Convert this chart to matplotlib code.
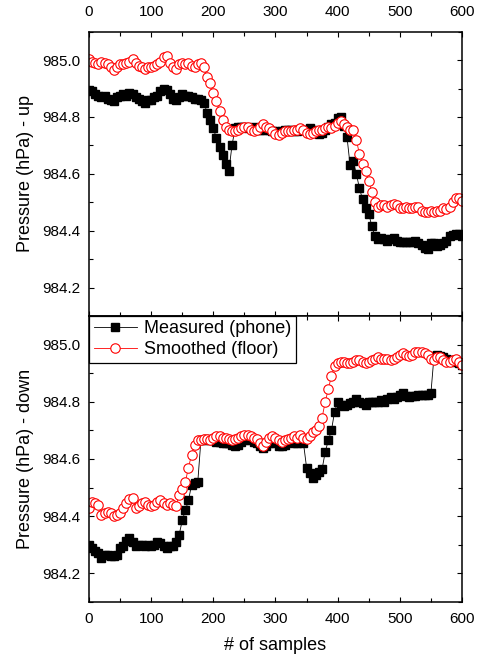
import matplotlib
matplotlib.use("Agg")
import matplotlib.pyplot as plt
from matplotlib.ticker import MultipleLocator

plt.rcParams['font.family'] = 'Liberation Sans'

# sample index (every 5th sample is plotted)
samples = list(range(0, 601, 5))

# upper sensor: raw phone reading and smoothed floor estimate
up_phone = [
    984.895, 984.89, 984.88, 984.875, 984.87, 984.875, 984.865, 984.86, 984.855, 984.87,
    984.875, 984.88, 984.875, 984.885, 984.88, 984.87, 984.865, 984.855, 984.85, 984.86,
    984.86, 984.87, 984.875, 984.89, 984.90, 984.895, 984.88, 984.865, 984.86, 984.87,
    984.88, 984.875, 984.875, 984.87, 984.865, 984.865, 984.86, 984.85, 984.815, 984.79,
    984.76, 984.725, 984.695, 984.665, 984.635, 984.61, 984.70, 984.76, 984.765, 984.765,
    984.765, 984.76, 984.76, 984.765, 984.76, 984.755, 984.755, 984.76, 984.755, 984.75,
    984.75, 984.745, 984.75, 984.755, 984.755, 984.755, 984.75, 984.75, 984.755, 984.755,
    984.755, 984.76, 984.755, 984.745, 984.74, 984.745, 984.755, 984.765, 984.775, 984.78,
    984.795, 984.80, 984.77, 984.73, 984.63, 984.645, 984.60, 984.55, 984.51, 984.48,
    984.46, 984.415, 984.38, 984.37, 984.375, 984.37, 984.365, 984.37, 984.375, 984.365,
    984.36, 984.36, 984.36, 984.36, 984.36, 984.365, 984.355, 984.35, 984.34, 984.335,
    984.355, 984.355, 984.345, 984.35, 984.355, 984.365, 984.38, 984.385, 984.39, 984.39,
    984.38,
]
up_floor = [
    985.005, 984.995, 984.99, 984.985, 984.995, 984.99, 984.985, 984.975, 984.965, 984.975,
    984.985, 984.985, 984.99, 984.995, 985.005, 984.99, 984.98, 984.975, 984.97, 984.975,
    984.975, 984.98, 984.985, 984.995, 985.01, 985.015, 984.99, 984.975, 984.97, 984.985,
    984.99, 984.985, 984.99, 984.98, 984.975, 984.985, 984.99, 984.975, 984.94, 984.92,
    984.885, 984.855, 984.82, 984.79, 984.765, 984.755, 984.75, 984.75, 984.755, 984.76,
    984.765, 984.765, 984.755, 984.75, 984.755, 984.765, 984.775, 984.765, 984.76, 984.75,
    984.74, 984.735, 984.745, 984.75, 984.75, 984.75, 984.755, 984.755, 984.76, 984.755,
    984.745, 984.74, 984.745, 984.75, 984.755, 984.755, 984.76, 984.765, 984.76, 984.77,
    984.78, 984.785, 984.775, 984.765, 984.755, 984.755, 984.72, 984.67, 984.635, 984.61,
    984.575, 984.535, 984.50, 984.485, 984.49, 984.49, 984.485, 984.49, 984.495, 984.49,
    984.48, 984.48, 984.485, 984.48, 984.48, 984.485, 984.485, 984.47, 984.465, 984.465,
    984.47, 984.465, 984.47, 984.47, 984.48, 984.475, 984.485, 984.50, 984.515, 984.515,
    984.505,
]

# lower sensor
down_phone = [
    984.30, 984.29, 984.28, 984.27, 984.255, 984.265, 984.265, 984.26, 984.26, 984.265,
    984.29, 984.295, 984.315, 984.325, 984.31, 984.295, 984.30, 984.30, 984.295, 984.30,
    984.295, 984.30, 984.31, 984.305, 984.295, 984.29, 984.295, 984.295, 984.31, 984.335,
    984.385, 984.42, 984.455, 984.51, 984.515, 984.52, 984.665, 984.665, 984.67, 984.665,
    984.665, 984.66, 984.66, 984.655, 984.655, 984.655, 984.65, 984.645, 984.65, 984.66,
    984.665, 984.67, 984.665, 984.66, 984.655, 984.645, 984.64, 984.645, 984.655, 984.66,
    984.655, 984.645, 984.645, 984.65, 984.66, 984.66, 984.655, 984.655, 984.66, 984.655,
    984.57, 984.55, 984.535, 984.545, 984.555, 984.565, 984.625, 984.665, 984.70, 984.765,
    984.80, 984.79, 984.785, 984.79, 984.795, 984.80, 984.81, 984.80, 984.795, 984.79,
    984.80, 984.80, 984.80, 984.80, 984.805, 984.80, 984.81, 984.815, 984.81, 984.815,
    984.825, 984.83, 984.82, 984.815, 984.82, 984.82, 984.825, 984.825, 984.825, 984.825,
    984.83, 984.96, 984.965, 984.96, 984.955, 984.95, 984.945, 984.945, 984.94, 984.935,
    984.93,
]
down_floor = [
    984.43, 984.45, 984.445, 984.44, 984.405, 984.41, 984.415, 984.41, 984.40, 984.405,
    984.41, 984.43, 984.445, 984.46, 984.465, 984.43, 984.435, 984.445, 984.45, 984.44,
    984.435, 984.44, 984.45, 984.455, 984.445, 984.44, 984.445, 984.44, 984.435, 984.475,
    984.495, 984.52, 984.57, 984.615, 984.65, 984.665, 984.665, 984.67, 984.67, 984.665,
    984.675, 984.68, 984.68, 984.675, 984.675, 984.67, 984.665, 984.67, 984.675, 984.68,
    984.685, 984.685, 984.68, 984.675, 984.67, 984.655, 984.645, 984.66, 984.675, 984.68,
    984.675, 984.665, 984.66, 984.665, 984.67, 984.675, 984.68, 984.675, 984.685, 984.675,
    984.67, 984.68, 984.695, 984.70, 984.715, 984.745, 984.80, 984.845, 984.89, 984.925,
    984.935, 984.94, 984.94, 984.935, 984.935, 984.94, 984.945, 984.945, 984.94, 984.935,
    984.94, 984.945, 984.95, 984.955, 984.95, 984.95, 984.95, 984.945, 984.95, 984.955,
    984.965, 984.97, 984.965, 984.96, 984.965, 984.975, 984.975, 984.975, 984.97, 984.965,
    984.95, 984.945, 984.955, 984.955, 984.945, 984.94, 984.94, 984.945, 984.95, 984.94,
    984.93,
]

fig = plt.figure(figsize=(4.79, 6.58), dpi=100)
ax1 = fig.add_axes([0.1858, 0.5198, 0.7787, 0.4320])
ax2 = fig.add_axes([0.1858, 0.0851, 0.7787, 0.4347])

sq = dict(color='black', lw=0.6, marker='s', ms=5.6, mfc='black', mec='black')
circ = dict(color='red', lw=0.6, marker='o', ms=6.8, mfc='white', mec='red', mew=0.8)

for ax, phone, floor in [(ax1, up_phone, up_floor), (ax2, down_phone, down_floor)]:
    ax.plot(samples, phone, label='Measured (phone)', **sq)
    ax.plot(samples, floor, label='Smoothed (floor)', **circ)
    ax.set_xlim(0, 600)
    ax.set_ylim(984.1, 985.1)
    ax.xaxis.set_major_locator(MultipleLocator(100))
    ax.xaxis.set_minor_locator(MultipleLocator(50))
    ax.yaxis.set_major_locator(MultipleLocator(0.2))
    ax.yaxis.set_minor_locator(MultipleLocator(0.1))
    ax.yaxis.set_major_formatter(matplotlib.ticker.FormatStrFormatter('%.1f'))
    ax.tick_params(which='both', direction='in', top=True, right=True, width=0.8, labelsize=11)
    ax.tick_params(which='major', length=3.6)
    ax.tick_params(which='minor', length=2.6)
    ax.tick_params(axis='y', pad=6.5)
    for s in ax.spines.values():
        s.set_linewidth(1.1)

ax1.tick_params(axis='x', labeltop=True, labelbottom=False, pad=9)
ax2.tick_params(axis='x', pad=7)

ax1.set_ylabel('Pressure (hPa) - up', fontsize=13, labelpad=6)
ax2.set_ylabel('Pressure (hPa) - down', fontsize=13, labelpad=6)
ax2.set_xlabel('# of samples', fontsize=13, labelpad=8)

leg = ax2.legend(loc='upper left', fontsize=13, frameon=True, fancybox=False,
                 framealpha=1, edgecolor='black', borderaxespad=0,
                 handlelength=2.4, handletextpad=0.4, borderpad=0.25,
                 labelspacing=0.2)
leg.get_frame().set_linewidth(0.9)

fig.savefig('out.png', dpi=100)
